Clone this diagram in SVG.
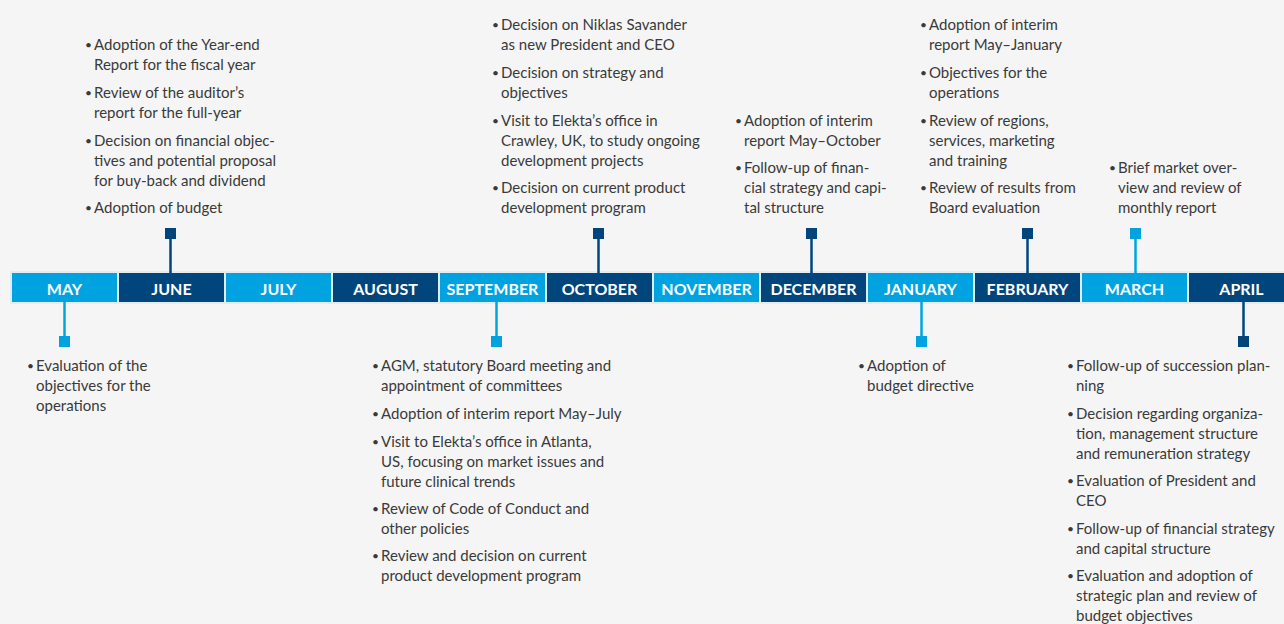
<svg xmlns="http://www.w3.org/2000/svg" width="1284" height="624" viewBox="0 0 1284 624">
<style>
.t{font-family:Lato,"Open Sans","Liberation Sans",sans-serif;font-size:15px;fill:#3a3a3a}
.b{font-size:12px}
.m{font-family:Lato,"Open Sans","Liberation Sans",sans-serif;font-size:16px;font-weight:bold;fill:#ffffff;text-anchor:middle}
.lb{fill:#00a3e0}
.db{fill:#00457c}
.ls{stroke:#00a3e0;stroke-width:2.5}
.ds{stroke:#00457c;stroke-width:2.5}
</style>
<rect width="1284" height="624" fill="#f5f5f5"/>
<rect x="10" y="271" width="1274" height="33" fill="#e4ecf3"/>
<g id="months">
<g id="may"><rect class="lb" x="12" y="273" width="105" height="29"/><text class="m" x="64.5" y="295">MAY</text></g>
<g id="june"><rect class="db" x="119" y="273" width="105" height="29"/><text class="m" x="171.5" y="295">JUNE</text></g>
<g id="july"><rect class="lb" x="226" y="273" width="105" height="29"/><text class="m" x="278.5" y="295">JULY</text></g>
<g id="august"><rect class="db" x="333" y="273" width="105" height="29"/><text class="m" x="385.5" y="295">AUGUST</text></g>
<g id="september"><rect class="lb" x="440" y="273" width="105" height="29"/><text class="m" x="492.5" y="295">SEPTEMBER</text></g>
<g id="october"><rect class="db" x="547" y="273" width="105" height="29"/><text class="m" x="599.5" y="295">OCTOBER</text></g>
<g id="november"><rect class="lb" x="654" y="273" width="105" height="29"/><text class="m" x="706.5" y="295">NOVEMBER</text></g>
<g id="december"><rect class="db" x="761" y="273" width="105" height="29"/><text class="m" x="813.5" y="295">DECEMBER</text></g>
<g id="january"><rect class="lb" x="868" y="273" width="105" height="29"/><text class="m" x="920.5" y="295">JANUARY</text></g>
<g id="february"><rect class="db" x="975" y="273" width="105" height="29"/><text class="m" x="1027.5" y="295">FEBRUARY</text></g>
<g id="march"><rect class="lb" x="1082" y="273" width="105" height="29"/><text class="m" x="1134.5" y="295">MARCH</text></g>
<g id="april"><rect class="db" x="1189" y="273" width="95" height="29"/><text class="m" x="1241.5" y="295">APRIL</text></g>
</g>
<g id="connectors">
<line class="ds" x1="170.5" y1="238" x2="170.5" y2="273"/><rect class="db" x="165" y="228" width="11" height="11"/>
<line class="ds" x1="598.5" y1="238" x2="598.5" y2="273"/><rect class="db" x="593" y="228" width="11" height="11"/>
<line class="ds" x1="811.5" y1="238" x2="811.5" y2="273"/><rect class="db" x="806" y="228" width="11" height="11"/>
<line class="ds" x1="1027.5" y1="238" x2="1027.5" y2="273"/><rect class="db" x="1022" y="228" width="11" height="11"/>
<line class="ls" x1="1135.5" y1="238" x2="1135.5" y2="273"/><rect class="lb" x="1130" y="228" width="11" height="11"/>
<line class="ls" x1="64.5" y1="302" x2="64.5" y2="337"/><rect class="lb" x="59" y="336" width="11" height="11"/>
<line class="ls" x1="496.5" y1="302" x2="496.5" y2="337"/><rect class="lb" x="491" y="336" width="11" height="11"/>
<line class="ls" x1="921.5" y1="302" x2="921.5" y2="337"/><rect class="lb" x="916" y="336" width="11" height="11"/>
<line class="ds" x1="1243.5" y1="302" x2="1243.5" y2="337"/><rect class="db" x="1238" y="336" width="11" height="11"/>
</g>
<g id="june-notes" class="t">
<text class="b" x="85" y="49">•</text><text x="94" y="50">Adoption of the Year-end</text><text x="94" y="70">Report for the fiscal year</text>
<text class="b" x="85" y="97">•</text><text x="94" y="98">Review of the auditor’s</text><text x="94" y="118">report for the full-year</text>
<text class="b" x="85" y="145">•</text><text x="94" y="146">Decision on financial objec-</text><text x="94" y="166">tives and potential proposal</text><text x="94" y="186">for buy-back and dividend</text>
<text class="b" x="85" y="212">•</text><text x="94" y="213">Adoption of budget</text>
</g>
<g id="october-notes" class="t">
<text class="b" x="492" y="29">•</text><text x="501" y="30">Decision on Niklas Savander</text><text x="501" y="50">as new President and CEO</text>
<text class="b" x="492" y="77">•</text><text x="501" y="78">Decision on strategy and</text><text x="501" y="98">objectives</text>
<text class="b" x="492" y="125">•</text><text x="501" y="126">Visit to Elekta’s office in</text><text x="501" y="146">Crawley, UK, to study ongoing</text><text x="501" y="166">development projects</text>
<text class="b" x="492" y="192">•</text><text x="501" y="193">Decision on current product</text><text x="501" y="213">development program</text>
</g>
<g id="december-notes" class="t">
<text class="b" x="735" y="125">•</text><text x="744" y="126">Adoption of interim</text><text x="744" y="146">report May–October</text>
<text class="b" x="735" y="172">•</text><text x="744" y="173">Follow-up of finan-</text><text x="744" y="193">cial strategy and capi-</text><text x="744" y="213">tal structure</text>
</g>
<g id="february-notes" class="t">
<text class="b" x="920" y="29">•</text><text x="929" y="30">Adoption of interim</text><text x="929" y="50">report May–January</text>
<text class="b" x="920" y="77">•</text><text x="929" y="78">Objectives for the</text><text x="929" y="98">operations</text>
<text class="b" x="920" y="125">•</text><text x="929" y="126">Review of regions,</text><text x="929" y="146">services, marketing</text><text x="929" y="166">and training</text>
<text class="b" x="920" y="192">•</text><text x="929" y="193">Review of results from</text><text x="929" y="213">Board evaluation</text>
</g>
<g id="march-notes" class="t">
<text class="b" x="1109" y="172">•</text><text x="1118" y="173">Brief market over-</text><text x="1118" y="193">view and review of</text><text x="1118" y="213">monthly report</text>
</g>
<g id="may-notes" class="t">
<text class="b" x="27" y="370">•</text><text x="36" y="371">Evaluation of the</text><text x="36" y="391">objectives for the</text><text x="36" y="411">operations</text>
</g>
<g id="september-notes" class="t">
<text class="b" x="372" y="370">•</text><text x="381" y="371">AGM, statutory Board meeting and</text><text x="381" y="391">appointment of committees</text>
<text class="b" x="372" y="418">•</text><text x="381" y="419">Adoption of interim report May–July</text>
<text class="b" x="372" y="446">•</text><text x="381" y="447">Visit to Elekta’s office in Atlanta,</text><text x="381" y="467">US, focusing on market issues and</text><text x="381" y="487">future clinical trends</text>
<text class="b" x="372" y="513">•</text><text x="381" y="514">Review of Code of Conduct and</text><text x="381" y="534">other policies</text>
<text class="b" x="372" y="560">•</text><text x="381" y="561">Review and decision on current</text><text x="381" y="581">product development program</text>
</g>
<g id="january-notes" class="t">
<text class="b" x="858" y="370">•</text><text x="867" y="371">Adoption of</text><text x="867" y="391">budget directive</text>
</g>
<g id="april-notes" class="t">
<text class="b" x="1067" y="370">•</text><text x="1076" y="371">Follow-up of succession plan-</text><text x="1076" y="391">ning</text>
<text class="b" x="1067" y="418">•</text><text x="1076" y="419">Decision regarding organiza-</text><text x="1076" y="439">tion, management structure</text><text x="1076" y="459">and remuneration strategy</text>
<text class="b" x="1067" y="485">•</text><text x="1076" y="486">Evaluation of President and</text><text x="1076" y="506">CEO</text>
<text class="b" x="1067" y="533">•</text><text x="1076" y="534">Follow-up of financial strategy</text><text x="1076" y="554">and capital structure</text>
<text class="b" x="1067" y="580">•</text><text x="1076" y="581">Evaluation and adoption of</text><text x="1076" y="601">strategic plan and review of</text><text x="1076" y="621">budget objectives</text>
</g>
</svg>
